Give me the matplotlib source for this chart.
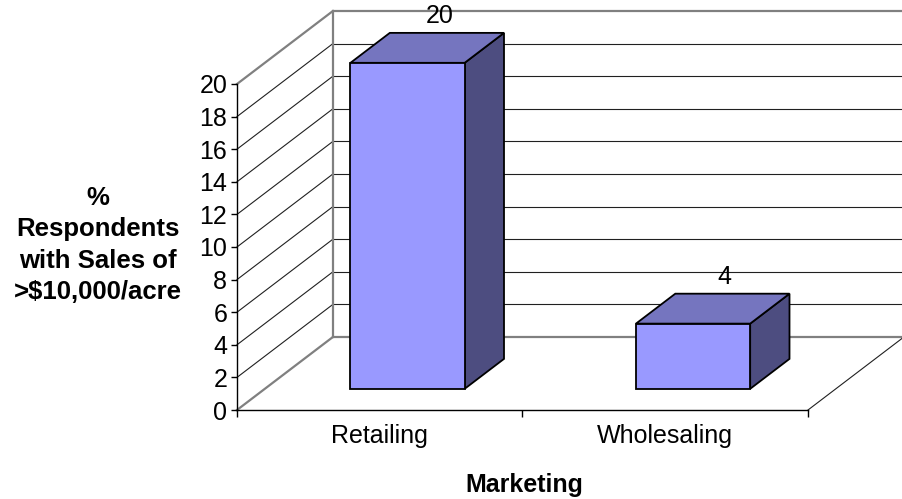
import matplotlib
matplotlib.use("Agg")
import matplotlib.pyplot as plt
from matplotlib.patches import Polygon

plt.rcParams['font.family'] = ['Liberation Sans', 'DejaVu Sans']

categories = ['Retailing', 'Wholesaling']
values = [20, 4]
y_ticks = list(range(0, 21, 2))
y_label = '%\nRespondents\nwith Sales of\n>$10,000/acre'
x_label = 'Marketing'

# 3d look: depth offset of the back wall, in data units
DX, DY = 0.336, 4.48
BAR_W = 0.40
F0, F1 = 0.29, 0.70  # bar front / back as fraction of depth

FRONT = '#9999ff'
TOP = '#7575bf'
SIDE = '#4d4d80'
WALL = '#808080'

fig = plt.figure(figsize=(9.03, 4.99), dpi=100)
ax = fig.add_axes([237 / 903, 89 / 499, 666 / 903, 399 / 499])
ax.set_xlim(0, 666 / 285.5)
ax.set_ylim(0, 399 / 16.3)

top_val = y_ticks[-1]
n = len(categories)

# back wall gridlines and side wall diagonals
for v in y_ticks:
    edge = v in (0, top_val)
    col = WALL if edge else '#202020'
    lw = 1.6 if edge else 0.8
    ax.plot([DX, n + DX], [v + DY, v + DY], color=col, lw=lw, zorder=1, clip_on=False)
    ax.plot([0, DX], [v, v + DY], color=col, lw=lw, zorder=1, clip_on=False)
ax.plot([DX, DX], [DY, top_val + DY], color=WALL, lw=1.6, zorder=1)
ax.plot([n, n + DX], [0, DY], color='#202020', lw=0.8, zorder=1, clip_on=False)

# bars
for i, v in enumerate(values):
    x0 = i + 0.5 - BAR_W / 2 + F0 * DX
    y0 = F0 * DY
    t = F1 - F0
    front = [(x0, y0), (x0 + BAR_W, y0), (x0 + BAR_W, y0 + v), (x0, y0 + v)]
    top = [(x0, y0 + v), (x0 + BAR_W, y0 + v),
           (x0 + BAR_W + t * DX, y0 + v + t * DY), (x0 + t * DX, y0 + v + t * DY)]
    side = [(x0 + BAR_W, y0), (x0 + BAR_W + t * DX, y0 + t * DY),
            (x0 + BAR_W + t * DX, y0 + v + t * DY), (x0 + BAR_W, y0 + v)]
    for pts, col in ((side, SIDE), (top, TOP), (front, FRONT)):
        ax.add_patch(Polygon(pts, closed=True, facecolor=col, edgecolor='black',
                             lw=1.3, joinstyle='miter', zorder=3))
    ax.text(i + 0.5 + 0.62 * DX, v + F1 * DY + 0.3, str(v), ha='center', va='bottom',
            fontsize=18, zorder=4)

# axes
for s in ('top', 'right'):
    ax.spines[s].set_visible(False)
ax.spines['left'].set_bounds(0, top_val)
ax.spines['bottom'].set_bounds(0, n)
for s in ('left', 'bottom'):
    ax.spines[s].set_linewidth(1.0)
    ax.spines[s].set_zorder(2)

ax.set_yticks(y_ticks)
ax.tick_params(axis='y', length=4, width=1.0, pad=3, labelsize=18)
ax.set_xticks(range(n + 1))
ax.set_xticklabels([])
ax.tick_params(axis='x', which='major', length=5, width=1.0)
ax.set_xticks([i + 0.5 for i in range(n)], minor=True)
ax.set_xticklabels(categories, minor=True)
ax.tick_params(axis='x', which='minor', length=0, pad=10, labelsize=18)

fig.text(524 / 903, 1 - 492 / 499, x_label, ha='center', va='baseline',
         fontsize=18, fontweight='bold')
fig.text(98 / 903, 1 - 245 / 499, y_label, ha='center', va='center', multialignment='center',
         fontsize=18.5, fontweight='bold', linespacing=1.38)

fig.savefig('out.png', dpi=100)
